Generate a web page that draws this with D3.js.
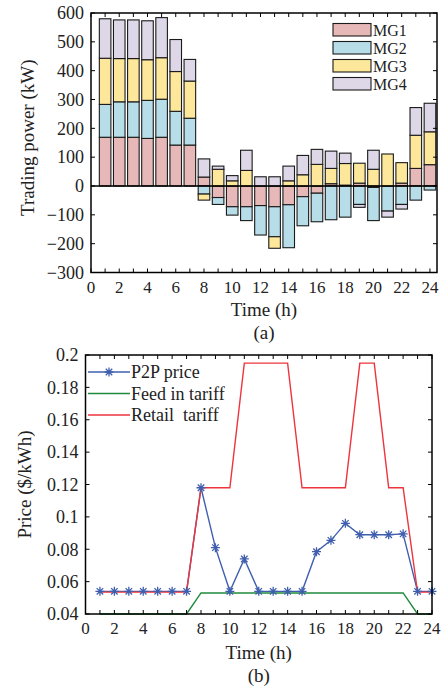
<!DOCTYPE html>
<html>
<head>
<meta charset="utf-8">
<script src="https://cdn.jsdelivr.net/npm/d3@7"></script>
<style>
  body { margin: 0; background: #fff; }
  svg { display: block; font-family: "Liberation Serif", "Times New Roman", serif; }
</style>
</head>
<body>
<svg id="chart" width="443" height="687"></svg>
<script>
// Hour categories
const hours = [1, 2, 3, 4, 5, 6, 7, 8, 9, 10, 11, 12, 13, 14, 15, 16, 17, 18, 19, 20, 21, 22, 23, 24];

// Trading power per microgrid (kW)
const mg1 = [169, 169, 169, 165, 169, 142, 142, 31, -40, -72, -72, -68, -72, -65, -37, -25, 8, 3, 10, -5, 0, 10, 61, 74];
const mg2 = [114, 123, 123, 132, 132, 117, 93, -28, -24, -29, -48, -102, -104, -149, -101, -99, -117, -108, -64, -115, -87, -64, -49, -14];
const mg3 = [160, 150, 150, 141, 144, 138, 129, -21, 58, 18, 54, 0, -40, 18, 39, 75, 53, 75, 69, 58, 111, 71, 115, 114];
const mg4 = [137, 134, 134, 135, 139, 111, 75, 63, 11, 18, 70, 32, 32, 51, 67, 52, 60, 36, -10, 66, -21, -16, 96, 99];
const mgNames = ["MG1", "MG2", "MG3", "MG4"];
const mgColors = ["#e6b9b8", "#b7dee8", "#fde79b", "#ddd7e8"];

// Prices ($/kWh)
const p2pPrice = [0.054, 0.054, 0.054, 0.054, 0.054, 0.054, 0.054, 0.118, 0.081, 0.054, 0.074, 0.054, 0.054, 0.054, 0.054, 0.0785, 0.0855, 0.096, 0.089, 0.089, 0.089, 0.0895, 0.054, 0.054];
const feedTariff = [0.04, 0.04, 0.04, 0.04, 0.04, 0.04, 0.04, 0.053, 0.053, 0.053, 0.053, 0.053, 0.053, 0.053, 0.053, 0.053, 0.053, 0.053, 0.053, 0.053, 0.053, 0.053, 0.04, 0.04];
const retailTariff = [0.0535, 0.0535, 0.0535, 0.0535, 0.0535, 0.0535, 0.0535, 0.118, 0.118, 0.118, 0.195, 0.195, 0.195, 0.195, 0.118, 0.118, 0.118, 0.118, 0.195, 0.195, 0.118, 0.118, 0.0535, 0.0535];

// Tick values
const xTickLabels = [0, 2, 4, 6, 8, 10, 12, 14, 16, 18, 20, 22, 24];
const xMinorTicks = [0, 1, 2, 3, 4, 5, 6, 7, 8, 9, 10, 11, 12, 13, 14, 15, 16, 17, 18, 19, 20, 21, 22, 23, 24];
const powerTicks = [-300, -200, -100, 0, 100, 200, 300, 400, 500, 600];
const priceTicks = [0.04, 0.06, 0.08, 0.1, 0.12, 0.14, 0.16, 0.18, 0.2];

const svg = d3.select("#chart");
const tickLen = 4;

// draw inward ticks on all sides plus tick labels
function frame(x, y, yTicks, yFmt, yFont) {
    const [x0, x1] = x.range();
    const [y0, y1] = y.range();
    const g = svg.append("g");
    // minor x ticks top and bottom
    xMinorTicks.forEach(t => {
        g.append("line").attr("x1", x(t)).attr("x2", x(t)).attr("y1", y0).attr("y2", y0 - tickLen)
            .attr("stroke", "#000").attr("stroke-width", 1);
        g.append("line").attr("x1", x(t)).attr("x2", x(t)).attr("y1", y1).attr("y2", y1 + tickLen)
            .attr("stroke", "#000").attr("stroke-width", 1);
    });
    yTicks.forEach(t => {
        g.append("line").attr("x1", x0).attr("x2", x0 + tickLen).attr("y1", y(t)).attr("y2", y(t))
            .attr("stroke", "#000").attr("stroke-width", 1);
        g.append("line").attr("x1", x1).attr("x2", x1 - tickLen).attr("y1", y(t)).attr("y2", y(t))
            .attr("stroke", "#000").attr("stroke-width", 1);
        g.append("text")
            .attr("x", x0 - 7)
            .attr("y", y(t))
            .attr("dy", "0.35em")
            .attr("text-anchor", "end")
            .style("font-size", yFont + "px")
            .attr("fill", "#222")
            .text(yFmt(t));
    });
    xTickLabels.forEach(t => {
        g.append("text")
            .attr("x", x(t))
            .attr("y", y0 + 20)
            .attr("text-anchor", "middle")
            .style("font-size", "17px")
            .attr("fill", "#222")
            .text(t);
    });
    return g;
}

function drawFrameBox(x, y) {
    const [x0, x1] = x.range();
    const [y0, y1] = y.range();
    svg.append("rect")
        .attr("x", x0).attr("y", y1)
        .attr("width", x1 - x0).attr("height", y0 - y1)
        .attr("fill", "none")
        .attr("stroke", "#000")
        .attr("stroke-width", 1.5);
}

// ---------- (a) Trading power ----------
const xa = d3.scaleLinear().domain([0, 24.5]).range([91, 437]);
const ya = d3.scaleLinear().domain([-300, 600]).range([272.5, 13]);

const table = hours.map((h, i) => ({ hour: h, MG1: mg1[i], MG2: mg2[i], MG3: mg3[i], MG4: mg4[i] }));
const series = d3.stack().keys(mgNames).offset(d3.stackOffsetDiverging)(table);
const barW = (xa(1) - xa(0)) * 0.82;

svg.append("g")
    .selectAll("g")
    .data(series)
    .join("g")
    .attr("fill", (d, i) => mgColors[i])
    .selectAll("rect")
    .data(d => d)
    .join("rect")
    .attr("x", d => xa(d.data.hour) - barW / 2)
    .attr("y", d => ya(Math.max(d[0], d[1])))
    .attr("width", barW)
    .attr("height", d => Math.abs(ya(d[0]) - ya(d[1])))
    .attr("stroke", "#1a1a1a")
    .attr("stroke-width", 1.1);

// zero line
svg.append("line")
    .attr("x1", xa.range()[0]).attr("x2", xa.range()[1])
    .attr("y1", ya(0)).attr("y2", ya(0))
    .attr("stroke", "#000").attr("stroke-width", 1.3);

frame(xa, ya, powerTicks, d => d < 0 ? "\u2212" + Math.abs(d) : d, 18);
drawFrameBox(xa, ya);

// legend (a)
const legA = svg.append("g");
mgNames.forEach((name, i) => {
    const yy = 23.5 + i * 18;
    legA.append("rect")
        .attr("x", 333).attr("y", yy)
        .attr("width", 38).attr("height", 12.5)
        .attr("fill", mgColors[i])
        .attr("stroke", "#1a1a1a").attr("stroke-width", 1.1);
    legA.append("text")
        .attr("x", 373).attr("y", yy + 6.5)
        .attr("dy", "0.35em")
        .style("font-size", "16px")
        .attr("fill", "#222")
        .text(name);
});

svg.append("text")
    .attr("transform", `translate(34,${(ya(600) + ya(-300)) / 2 - 5}) rotate(-90)`)
    .attr("text-anchor", "middle")
    .style("font-size", "19px")
    .attr("fill", "#222")
    .text("Trading power (kW)");
svg.append("text")
    .attr("x", (xa(0) + xa(24.5)) / 2).attr("y", 316)
    .attr("text-anchor", "middle")
    .style("font-size", "19px")
    .attr("fill", "#222")
    .text("Time (h)");
svg.append("text")
    .attr("x", (xa(0) + xa(24.5)) / 2).attr("y", 339)
    .attr("text-anchor", "middle")
    .style("font-size", "19px")
    .attr("fill", "#222")
    .text("(a)");

// ---------- (b) Prices ----------
const xb = d3.scaleLinear().domain([0, 24]).range([85.5, 432]);
const yb = d3.scaleLinear().domain([0.04, 0.2]).range([614, 355]);

const line = d3.line()
    .x((d, i) => xb(hours[i]))
    .y(d => yb(d));

const blue = "#3f5fae", green = "#1f8a3c", red = "#ee343c";

svg.append("path").datum(p2pPrice)
    .attr("fill", "none").attr("stroke", blue).attr("stroke-width", 1.4).attr("d", line);
svg.append("path").datum(feedTariff)
    .attr("fill", "none").attr("stroke", green).attr("stroke-width", 1.4).attr("d", line);
svg.append("path").datum(retailTariff)
    .attr("fill", "none").attr("stroke", red).attr("stroke-width", 1.4).attr("d", line);

// asterisk marker
function star(g, cx, cy, r) {
    const a = r * 0.72;
    g.append("path")
        .attr("d", `M${cx - r},${cy}L${cx + r},${cy}M${cx},${cy - r}L${cx},${cy + r}` +
            `M${cx - a},${cy - a}L${cx + a},${cy + a}M${cx - a},${cy + a}L${cx + a},${cy - a}`)
        .attr("stroke", blue)
        .attr("stroke-width", 1.3)
        .attr("fill", "none");
}
const markers = svg.append("g");
p2pPrice.forEach((v, i) => star(markers, xb(hours[i]), yb(v), 4.5));

frame(xb, yb, priceTicks, d => d3.format("")(+d.toFixed(2)), 18);
drawFrameBox(xb, yb);

// legend (b)
const legB = svg.append("g");
[["P2P price", blue], ["Feed in tariff", green], ["Retail  tariff", red]].forEach(([name, c], i) => {
    const yy = 372 + i * 21.5;
    legB.append("line")
        .attr("x1", 88).attr("x2", 130).attr("y1", yy).attr("y2", yy)
        .attr("stroke", c).attr("stroke-width", 1.4);
    if (i === 0) star(legB, 109, yy, 4.5);
    legB.append("text")
        .attr("x", 131).attr("y", yy)
        .attr("dy", "0.35em")
        .style("font-size", "18px")
        .style("white-space", "pre")
        .attr("fill", "#222")
        .text(name);
});

svg.append("text")
    .attr("transform", `translate(31,${(yb(0.2) + yb(0.04)) / 2}) rotate(-90)`)
    .attr("text-anchor", "middle")
    .style("font-size", "19px")
    .attr("fill", "#222")
    .text("Price ($/kWh)");
svg.append("text")
    .attr("x", (xb(0) + xb(24)) / 2).attr("y", 659)
    .attr("text-anchor", "middle")
    .style("font-size", "19px")
    .attr("fill", "#222")
    .text("Time (h)");
svg.append("text")
    .attr("x", (xb(0) + xb(24)) / 2).attr("y", 682)
    .attr("text-anchor", "middle")
    .style("font-size", "19px")
    .attr("fill", "#222")
    .text("(b)");
</script>
</body>
</html>
